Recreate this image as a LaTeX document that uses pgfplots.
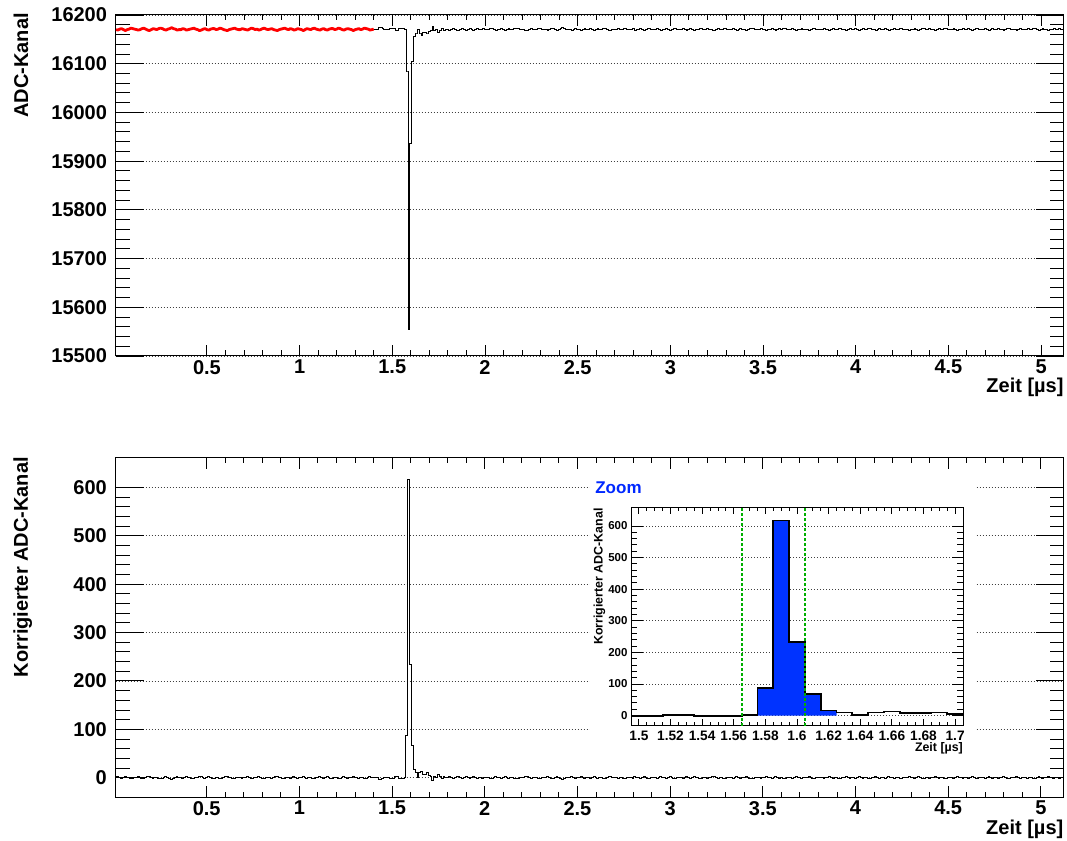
\documentclass[border=0pt]{standalone}
\usepackage{fontspec}
\setmainfont{Liberation Sans}
\usepackage{pgfplots}
\pgfplotsset{compat=1.18}
\usepackage{pgfplotstable}
\definecolor{zoomblue}{RGB}{0,40,255}
\definecolor{fillblue}{RGB}{0,51,255}
\definecolor{rootgreen}{RGB}{0,175,0}

\pgfplotstableread[row sep=\\]{
t adc v\\
0.01 16170 1\\ 0.02 16169 2\\ 0.03 16171 0\\ 0.04 16172 -1\\ 0.05 16170 1\\ 0.06 16168 3\\ 0.07 16170 1\\ 0.08 16171 0\\ 0.09 16173 -2\\ 0.10 16172 -1\\
0.11 16171 0\\ 0.12 16170 1\\ 0.13 16169 2\\ 0.14 16170 1\\ 0.15 16172 -1\\ 0.16 16173 -2\\ 0.17 16171 0\\ 0.18 16169 2\\ 0.19 16168 3\\ 0.20 16170 1\\
0.21 16172 -1\\ 0.22 16171 0\\ 0.23 16170 1\\ 0.24 16172 -1\\ 0.25 16173 -2\\ 0.26 16172 -1\\ 0.27 16170 1\\ 0.28 16169 2\\ 0.29 16171 0\\ 0.30 16172 -1\\
0.31 16174 -3\\ 0.32 16172 -1\\ 0.33 16171 0\\ 0.34 16169 2\\ 0.35 16170 1\\ 0.36 16170 1\\ 0.37 16172 -1\\ 0.38 16171 0\\ 0.39 16169 2\\ 0.40 16170 1\\
0.41 16171 0\\ 0.42 16172 -1\\ 0.43 16173 -2\\ 0.44 16171 0\\ 0.45 16170 1\\ 0.46 16168 3\\ 0.47 16169 2\\ 0.48 16171 0\\ 0.49 16172 -1\\ 0.50 16170 1\\
0.51 16169 2\\ 0.52 16171 0\\ 0.53 16172 -1\\ 0.54 16172 -1\\ 0.55 16170 1\\ 0.56 16171 0\\ 0.57 16173 -2\\ 0.58 16172 -1\\ 0.59 16170 1\\ 0.60 16169 2\\
0.61 16168 3\\ 0.62 16170 1\\ 0.63 16171 0\\ 0.64 16172 -1\\ 0.65 16173 -2\\ 0.66 16171 0\\ 0.67 16170 1\\ 0.68 16170 1\\ 0.69 16172 -1\\ 0.70 16171 0\\
0.71 16170 1\\ 0.72 16169 2\\ 0.73 16171 0\\ 0.74 16173 -2\\ 0.75 16172 -1\\ 0.76 16170 1\\ 0.77 16171 0\\ 0.78 16169 2\\ 0.79 16170 1\\ 0.80 16172 -1\\
0.81 16173 -2\\ 0.82 16171 0\\ 0.83 16170 1\\ 0.84 16171 0\\ 0.85 16172 -1\\ 0.86 16170 1\\ 0.87 16169 2\\ 0.88 16168 3\\ 0.89 16170 1\\ 0.90 16171 0\\
0.91 16172 -1\\ 0.92 16173 -2\\ 0.93 16171 0\\ 0.94 16170 1\\ 0.95 16172 -1\\ 0.96 16171 0\\ 0.97 16169 2\\ 0.98 16170 1\\ 0.99 16172 -1\\ 1.00 16171 0\\
1.01 16170 1\\ 1.02 16168 3\\ 1.03 16170 1\\ 1.04 16172 -1\\ 1.05 16171 0\\ 1.06 16170 1\\ 1.07 16172 -1\\ 1.08 16173 -2\\ 1.09 16171 0\\ 1.10 16170 1\\
1.11 16169 2\\ 1.12 16171 0\\ 1.13 16172 -1\\ 1.14 16170 1\\ 1.15 16169 2\\ 1.16 16171 0\\ 1.17 16172 -1\\ 1.18 16172 -1\\ 1.19 16170 1\\ 1.20 16171 0\\
1.21 16173 -2\\ 1.22 16172 -1\\ 1.23 16170 1\\ 1.24 16169 2\\ 1.25 16171 0\\ 1.26 16172 -1\\ 1.27 16171 0\\ 1.28 16170 1\\ 1.29 16168 3\\ 1.30 16170 1\\
1.31 16171 0\\ 1.32 16172 -1\\ 1.33 16170 1\\ 1.34 16171 0\\ 1.35 16173 -2\\ 1.36 16172 -1\\ 1.37 16171 0\\ 1.38 16169 2\\ 1.39 16170 1\\ 1.40 16171 0\\
1.41 16170 1\\ 1.42 16171 0\\ 1.43 16174 -3\\ 1.44 16175 -4\\ 1.45 16173 -2\\ 1.46 16171 0\\ 1.47 16170 1\\ 1.48 16171 0\\ 1.49 16172 -1\\ 1.50 16172 -1\\
1.51 16173 -2\\ 1.52 16169 2\\ 1.53 16169 2\\ 1.54 16173 -2\\ 1.55 16173 -2\\ 1.56 16173 -2\\ 1.57 16170 1\\ 1.58 16083 88\\ 1.59 15554 617\\ 1.60 15937 234\\
1.61 16104 67\\ 1.62 16155 16\\ 1.63 16161 10\\ 1.64 16170 1\\ 1.65 16161 10\\ 1.66 16158 13\\ 1.67 16164 7\\ 1.68 16164 7\\ 1.69 16161 10\\ 1.70 16167 4\\
1.71 16169 2\\ 1.72 16176 -5\\ 1.73 16168 3\\ 1.74 16170 1\\ 1.75 16165 6\\ 1.76 16169 2\\ 1.77 16172 -1\\ 1.78 16168 3\\ 1.79 16171 0\\ 1.80 16170 1\\
1.81 16169 2\\ 1.82 16170 1\\ 1.83 16172 -1\\ 1.84 16171 0\\ 1.85 16168 3\\ 1.86 16169 2\\ 1.87 16171 0\\ 1.88 16172 -1\\ 1.89 16170 1\\ 1.90 16169 2\\
1.91 16171 0\\ 1.92 16172 -1\\ 1.93 16170 1\\ 1.94 16169 2\\ 1.95 16170 1\\ 1.96 16173 -2\\ 1.97 16171 0\\ 1.98 16170 1\\ 1.99 16172 -1\\ 2.00 16171 0\\
2.01 16170 1\\ 2.02 16171 0\\ 2.03 16172 -1\\ 2.04 16173 -2\\ 2.05 16171 0\\ 2.06 16169 2\\ 2.07 16170 1\\ 2.08 16171 0\\ 2.09 16172 -1\\ 2.10 16170 1\\
2.11 16169 2\\ 2.12 16170 1\\ 2.13 16172 -1\\ 2.14 16171 0\\ 2.15 16170 1\\ 2.16 16172 -1\\ 2.17 16173 -2\\ 2.18 16172 -1\\ 2.19 16171 0\\ 2.20 16170 1\\
2.21 16171 0\\ 2.22 16169 2\\ 2.23 16168 3\\ 2.24 16170 1\\ 2.25 16172 -1\\ 2.26 16171 0\\ 2.27 16170 1\\ 2.28 16171 0\\ 2.29 16173 -2\\ 2.30 16172 -1\\
2.31 16170 1\\ 2.32 16171 0\\ 2.33 16170 1\\ 2.34 16169 2\\ 2.35 16171 0\\ 2.36 16172 -1\\ 2.37 16172 -1\\ 2.38 16170 1\\ 2.39 16169 2\\ 2.40 16171 0\\
2.41 16172 -1\\ 2.42 16174 -3\\ 2.43 16172 -1\\ 2.44 16171 0\\ 2.45 16170 1\\ 2.46 16171 0\\ 2.47 16169 2\\ 2.48 16170 1\\ 2.49 16172 -1\\ 2.50 16171 0\\
2.51 16170 1\\ 2.52 16169 2\\ 2.53 16171 0\\ 2.54 16172 -1\\ 2.55 16171 0\\ 2.56 16170 1\\ 2.57 16172 -1\\ 2.58 16171 0\\ 2.59 16169 2\\ 2.60 16170 1\\
2.61 16172 -1\\ 2.62 16171 0\\ 2.63 16170 1\\ 2.64 16173 -2\\ 2.65 16172 -1\\ 2.66 16171 0\\ 2.67 16169 2\\ 2.68 16168 3\\ 2.69 16170 1\\ 2.70 16171 0\\
2.71 16171 0\\ 2.72 16172 -1\\ 2.73 16170 1\\ 2.74 16171 0\\ 2.75 16172 -1\\ 2.76 16173 -2\\ 2.77 16171 0\\ 2.78 16170 1\\ 2.79 16170 1\\ 2.80 16172 -1\\
2.81 16169 2\\ 2.82 16170 1\\ 2.83 16171 0\\ 2.84 16172 -1\\ 2.85 16170 1\\ 2.86 16169 2\\ 2.87 16171 0\\ 2.88 16172 -1\\ 2.89 16173 -2\\ 2.90 16171 0\\
2.91 16170 1\\ 2.92 16171 0\\ 2.93 16172 -1\\ 2.94 16170 1\\ 2.95 16168 3\\ 2.96 16170 1\\ 2.97 16171 0\\ 2.98 16172 -1\\ 2.99 16171 0\\ 3.00 16169 2\\
3.01 16170 1\\ 3.02 16172 -1\\ 3.03 16173 -2\\ 3.04 16171 0\\ 3.05 16170 1\\ 3.06 16171 0\\ 3.07 16172 -1\\ 3.08 16170 1\\ 3.09 16169 2\\ 3.10 16171 0\\
3.11 16172 -1\\ 3.12 16171 0\\ 3.13 16169 2\\ 3.14 16170 1\\ 3.15 16171 0\\ 3.16 16173 -2\\ 3.17 16172 -1\\ 3.18 16171 0\\ 3.19 16170 1\\ 3.20 16172 -1\\
3.21 16171 0\\ 3.22 16170 1\\ 3.23 16168 3\\ 3.24 16169 2\\ 3.25 16171 0\\ 3.26 16172 -1\\ 3.27 16170 1\\ 3.28 16171 0\\ 3.29 16172 -1\\ 3.30 16173 -2\\
3.31 16171 0\\ 3.32 16170 1\\ 3.33 16171 0\\ 3.34 16172 -1\\ 3.35 16170 1\\ 3.36 16169 2\\ 3.37 16170 1\\ 3.38 16172 -1\\ 3.39 16171 0\\ 3.40 16170 1\\
3.41 16169 2\\ 3.42 16171 0\\ 3.43 16172 -1\\ 3.44 16173 -2\\ 3.45 16172 -1\\ 3.46 16170 1\\ 3.47 16171 0\\ 3.48 16170 1\\ 3.49 16172 -1\\ 3.50 16171 0\\
3.51 16170 1\\ 3.52 16169 2\\ 3.53 16170 1\\ 3.54 16171 0\\ 3.55 16172 -1\\ 3.56 16171 0\\ 3.57 16169 2\\ 3.58 16171 0\\ 3.59 16172 -1\\ 3.60 16170 1\\
3.61 16173 -2\\ 3.62 16172 -1\\ 3.63 16171 0\\ 3.64 16170 1\\ 3.65 16171 0\\ 3.66 16172 -1\\ 3.67 16170 1\\ 3.68 16168 3\\ 3.69 16170 1\\ 3.70 16171 0\\
3.71 16172 -1\\ 3.72 16171 0\\ 3.73 16170 1\\ 3.74 16171 0\\ 3.75 16169 2\\ 3.76 16170 1\\ 3.77 16172 -1\\ 3.78 16173 -2\\ 3.79 16171 0\\ 3.80 16170 1\\
3.81 16171 0\\ 3.82 16170 1\\ 3.83 16172 -1\\ 3.84 16171 0\\ 3.85 16170 1\\ 3.86 16169 2\\ 3.87 16171 0\\ 3.88 16172 -1\\ 3.89 16170 1\\ 3.90 16171 0\\
3.91 16172 -1\\ 3.92 16173 -2\\ 3.93 16171 0\\ 3.94 16170 1\\ 3.95 16169 2\\ 3.96 16171 0\\ 3.97 16172 -1\\ 3.98 16171 0\\ 3.99 16170 1\\ 4.00 16172 -1\\
4.01 16171 0\\ 4.02 16169 2\\ 4.03 16170 1\\ 4.04 16172 -1\\ 4.05 16171 0\\ 4.06 16170 1\\ 4.07 16172 -1\\ 4.08 16173 -2\\ 4.09 16171 0\\ 4.10 16170 1\\
4.11 16169 2\\ 4.12 16171 0\\ 4.13 16172 -1\\ 4.14 16170 1\\ 4.15 16171 0\\ 4.16 16172 -1\\ 4.17 16171 0\\ 4.18 16169 2\\ 4.19 16170 1\\ 4.20 16171 0\\
4.21 16172 -1\\ 4.22 16170 1\\ 4.23 16171 0\\ 4.24 16173 -2\\ 4.25 16172 -1\\ 4.26 16171 0\\ 4.27 16170 1\\ 4.28 16171 0\\ 4.29 16169 2\\ 4.30 16170 1\\
4.31 16171 0\\ 4.32 16172 -1\\ 4.33 16170 1\\ 4.34 16169 2\\ 4.35 16171 0\\ 4.36 16172 -1\\ 4.37 16172 -1\\ 4.38 16171 0\\ 4.39 16170 1\\ 4.40 16172 -1\\
4.41 16171 0\\ 4.42 16170 1\\ 4.43 16169 2\\ 4.44 16171 0\\ 4.45 16172 -1\\ 4.46 16171 0\\ 4.47 16170 1\\ 4.48 16172 -1\\ 4.49 16173 -2\\ 4.50 16171 0\\
4.51 16170 1\\ 4.52 16171 0\\ 4.53 16172 -1\\ 4.54 16170 1\\ 4.55 16169 2\\ 4.56 16170 1\\ 4.57 16171 0\\ 4.58 16172 -1\\ 4.59 16171 0\\ 4.60 16170 1\\
4.61 16172 -1\\ 4.62 16171 0\\ 4.63 16169 2\\ 4.64 16170 1\\ 4.65 16172 -1\\ 4.66 16173 -2\\ 4.67 16171 0\\ 4.68 16170 1\\ 4.69 16171 0\\ 4.70 16172 -1\\
4.71 16170 1\\ 4.72 16169 2\\ 4.73 16171 0\\ 4.74 16172 -1\\ 4.75 16171 0\\ 4.76 16170 1\\ 4.77 16172 -1\\ 4.78 16171 0\\ 4.79 16170 1\\ 4.80 16169 2\\
4.81 16171 0\\ 4.82 16172 -1\\ 4.83 16173 -2\\ 4.84 16171 0\\ 4.85 16170 1\\ 4.86 16171 0\\ 4.87 16169 2\\ 4.88 16170 1\\ 4.89 16172 -1\\ 4.90 16171 0\\
4.91 16170 1\\ 4.92 16171 0\\ 4.93 16172 -1\\ 4.94 16170 1\\ 4.95 16171 0\\ 4.96 16173 -2\\ 4.97 16172 -1\\ 4.98 16170 1\\ 4.99 16169 2\\ 5.00 16171 0\\
5.01 16172 -1\\ 5.02 16171 0\\ 5.03 16170 1\\ 5.04 16169 2\\ 5.05 16170 1\\ 5.06 16171 0\\ 5.07 16172 -1\\ 5.08 16171 0\\ 5.09 16170 1\\ 5.10 16172 -1\\
5.11 16171 0\\ 5.12 16170 1\\
}\sig

\pgfplotsset{
  rootaxis/.style={
    scale only axis,
    scaled ticks=false,
    xtick pos=both, ytick pos=both, tick align=inside,
    tick style={black, line width=0.9pt},
    axis line style={line width=1pt},
    ymajorgrids,
    major grid style={black!75, line width=0.8pt, dash pattern=on 1pt off 2pt},
    /pgf/number format/assume math mode=true,
    /pgf/number format/1000 sep={},
  },
  rootmain/.style={
    rootaxis,
    width=948pt,
    xmin=0.008, xmax=5.122,
    xtick={0.5,1,1.5,2,2.5,3,3.5,4,4.5,5},
    minor x tick num=4, minor y tick num=4,
    xtick style={/pgfplots/major tick length=11pt,/pgfplots/minor tick length=5.5pt},
    ytick style={/pgfplots/major tick length=28pt,/pgfplots/minor tick length=14pt},
    ticklabel style={font=\fontsize{20}{24}\selectfont\bfseries},
    xticklabel style={anchor=north, inner sep=0pt, yshift=-4pt},
    yticklabel style={anchor=east, inner sep=0pt, xshift=-8.5pt},
    label style={font=\fontsize{20}{24}\selectfont\bfseries, inner sep=0pt},
    xlabel={Zeit [µs]},
    xlabel style={at={(rel axis cs:1,0)}, anchor=base east, yshift=-37pt},
  },
}

\begin{document}
\begin{tikzpicture}
\path[use as bounding box] (0pt,0pt) rectangle (1067pt,840pt);

% upper panel: raw ADC channel
\begin{axis}[rootmain, at={(115.7pt,484pt)}, anchor=south west, height=341pt,
  ymin=15500, ymax=16200, ytick={15500,15600,...,16200},
  ylabel={ADC-Kanal},
  ylabel style={at={(rel axis cs:-0.0924,1.006)}, anchor=base east}]
\addplot[black, line width=1pt, const plot mark mid] table[x=t, y=adc]{\sig};
\addplot[red, line width=2.8pt, line join=round, restrict x to domain=0:1.405] table[x=t, y=adc]{\sig};
\end{axis}

% lower panel: corrected ADC channel
\begin{axis}[rootmain, at={(115.5pt,43pt)}, anchor=south west, height=339pt,
  ymin=-40, ymax=661, ytick={0,100,...,600},
  ylabel={Korrigierter ADC-Kanal},
  ylabel style={at={(rel axis cs:-0.0924,1.003)}, anchor=base east}]
\addplot[black, line width=1pt, const plot mark mid] table[x=t, y=v]{\sig};
\end{axis}

\fill[white] (590pt,75pt) rectangle (975pt,362pt);

% inset
\begin{axis}[rootaxis, at={(631pt,114pt)}, anchor=south west, width=332pt, height=219pt,
  axis background/.style={fill=white},
  xmin=1.495, xmax=1.705, ymin=-33, ymax=660,
  xtick={1.5,1.52,1.54,1.56,1.58,1.6,1.62,1.64,1.66,1.68,1.7},
  ytick={0,100,...,600},
  minor x tick num=3, minor y tick num=4,
  xtick style={/pgfplots/major tick length=7pt,/pgfplots/minor tick length=4pt},
  ytick style={/pgfplots/major tick length=11.5pt,/pgfplots/minor tick length=6pt},
  xticklabel style={font=\fontsize{13.7}{16}\selectfont\bfseries, anchor=north, inner sep=0pt, yshift=-4.5pt},
  yticklabel style={font=\fontsize{11.5}{13}\selectfont\bfseries, anchor=east, inner sep=0pt, xshift=-3.3pt},
  label style={font=\fontsize{12.4}{15}\selectfont\bfseries, inner sep=0pt},
  xlabel={Zeit [µs]},
  xlabel style={at={(rel axis cs:1,0)}, anchor=base east, yshift=-25.7pt},
  ylabel={Korrigierter ADC-Kanal},
  ylabel style={at={(rel axis cs:-0.0858,0.994)}, anchor=base east},
  title={Zoom},
  title style={at={(rel axis cs:-0.108,1)}, anchor=base west, yshift=7.5pt, inner sep=0pt,
    font=\fontsize{17}{20}\selectfont\bfseries, text=zoomblue}]
\addplot[fill=fillblue, draw=none, const plot] coordinates {(1.575,88) (1.585,617) (1.595,234) (1.605,67) (1.615,16) (1.625,16)} \closedcycle;
\addplot[black, line width=1.8pt, const plot mark mid, restrict x to domain=1.47:1.73] table[x=t, y=v]{\sig};
\addplot[draw=rootgreen, line width=2pt, dash pattern=on 3pt off 2pt, unbounded coords=jump]
  coordinates {(1.5652,-33) (1.5652,660) (1.585,nan) (1.605,-33) (1.605,660)};
\end{axis}
\end{tikzpicture}
\end{document}
